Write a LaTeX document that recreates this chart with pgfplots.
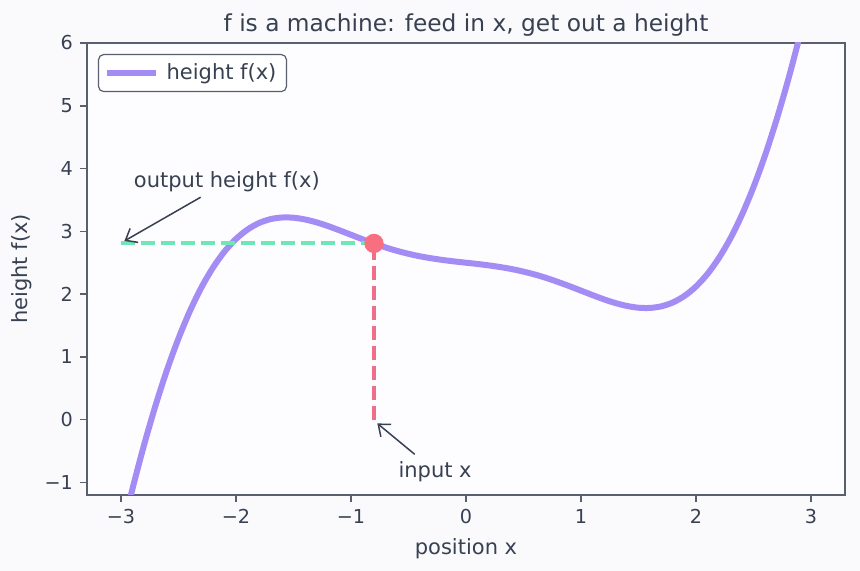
\documentclass[border=0pt]{standalone}
\usepackage{fontspec}
\setmainfont{DejaVu Sans}
\usepackage{pgfplots}
\pgfplotsset{compat=1.18}
\usetikzlibrary{arrows.meta}
\definecolor{bgc}{HTML}{FAFAFD}
\definecolor{axbg}{HTML}{FDFCFF}
\definecolor{txt}{HTML}{374151}
\definecolor{spine}{HTML}{5A5F6E}
\definecolor{curvec}{HTML}{A48CF5}
\definecolor{grn}{HTML}{6EE7B7}
\definecolor{rosel}{HTML}{EE6F8A}
\definecolor{dotc}{HTML}{F8707F}
\pgfplotstableread{
x y
-3.0 -1.860
-2.9 -1.104
-2.8 -0.410
-2.7 0.221
-2.6 0.789
-2.5 1.292
-2.4 1.731
-2.3 2.107
-2.2 2.421
-2.1 2.677
-2.0 2.878
-1.9 3.028
-1.8 3.132
-1.7 3.194
-1.6 3.220
-1.5 3.217
-1.4 3.189
-1.3 3.143
-1.2 3.084
-1.1 3.016
-1.0 2.945
-0.9 2.874
-0.8 2.807
-0.7 2.744
-0.6 2.689
-0.5 2.642
-0.4 2.602
-0.3 2.570
-0.2 2.543
-0.1 2.520
0.0 2.500
0.1 2.480
0.2 2.457
0.3 2.430
0.4 2.398
0.5 2.358
0.6 2.311
0.7 2.256
0.8 2.193
0.9 2.126
1.0 2.055
1.1 1.984
1.2 1.916
1.3 1.857
1.4 1.811
1.5 1.783
1.6 1.780
1.7 1.806
1.8 1.868
1.9 1.972
2.0 2.122
2.1 2.323
2.2 2.579
2.3 2.893
2.4 3.269
2.5 3.708
2.6 4.211
2.7 4.779
2.8 5.410
2.9 6.104
3.0 6.860
}\fdata
\begin{document}
\begin{tikzpicture}
\fill[bgc] (-43.5pt,-38pt) rectangle (386.5pt,247.5pt);
\begin{axis}[
  at={(0pt,0pt)}, anchor=south west,
  scale only axis, width=379pt, height=226pt,
  xmin=-3.295, xmax=3.295, ymin=-1.2, ymax=6,
  axis background/.style={fill=axbg},
  axis line style={spine, line width=0.75pt},
  every tick/.style={spine, line width=0.75pt},
  major tick length=3.5pt,
  tick align=outside,
  tick pos=left,
  xtick={-3,-2,-1,0,1,2,3}, xticklabels={−3,−2,−1,0,1,2,3},
  ytick={-1,0,1,2,3,4,5,6}, yticklabels={−1,0,1,2,3,4,5,6},
  ticklabel style={font=\fontsize{9.6}{11}\selectfont, text=txt},
  title={f is a machine: feed in x, get out a height},
  title style={font=\fontsize{11.65}{14}\selectfont, text=txt, at={(0.5,1)}, anchor=base, yshift=-0.5pt},
  xlabel={position x}, ylabel={height f(x)},
  label style={font=\fontsize{10.5}{12}\selectfont, text=txt},
  xlabel style={at={(0.5,0)}, anchor=base, yshift=-29.5pt},
  ylabel style={at={(-0.086,0.5)}, anchor=center, rotate=0},
  legend style={at={(0,1)}, anchor=north west, xshift=5.5pt, yshift=-5.5pt,
    draw=spine, fill=white, rounded corners=2.5pt, line width=0.6pt,
    inner xsep=2.5pt, inner ysep=4.5pt,
    font=\fontsize{10.5}{12}\selectfont, text=txt,
    cells={anchor=west}, nodes={inner sep=0pt, fill=none, draw=none, rounded corners=0pt}},
  legend image code/.code={\path[fill=none,draw=none] (0pt,-2pt) rectangle (30pt,2pt); \draw[#1, fill=none, rounded corners=0pt, line cap=butt, line width=3pt] (0pt,0pt) -- (24.5pt,0pt);},
  clip=true,
]
\addplot[curvec, line width=3pt, smooth, line join=round] table {\fdata};
\addlegendentry{height f(x)\rule{2.5pt}{0pt}}
\addplot[grn, line width=2pt, dash pattern=on 6.8pt off 3.2pt, forget plot] coordinates {(-3,2.807) (-0.8,2.807)};
\addplot[rosel, line width=2pt, dash pattern=on 6.8pt off 3.2pt, forget plot] coordinates {(-0.8,0) (-0.8,2.807)};
\addplot[only marks, mark=*, mark size=4.6pt, dotc, mark options={draw=dotc, fill=dotc}, forget plot] coordinates {(-0.8,2.807)};
\node[anchor=west, inner sep=0pt, font=\fontsize{10.5}{12}\selectfont, text=txt] at (axis cs:-2.89,3.79) {output height f(x)};
\draw[txt, line width=0.75pt, -{Straight Barb[length=5pt,width=8pt]}] (axis cs:-2.307,3.543) -- (axis cs:-2.97,2.846);
\node[anchor=west, inner sep=0pt, font=\fontsize{10.5}{12}\selectfont, text=txt] at (axis cs:-0.59,-0.834) {input x};
\draw[txt, line width=0.75pt, -{Straight Barb[length=5pt,width=8pt]}] (axis cs:-0.446,-0.552) -- (axis cs:-0.771,-0.06);
\end{axis}
\pgfresetboundingbox
\path (-43.5pt,-38pt) rectangle (386.5pt,247.5pt);
\end{tikzpicture}
\end{document}
